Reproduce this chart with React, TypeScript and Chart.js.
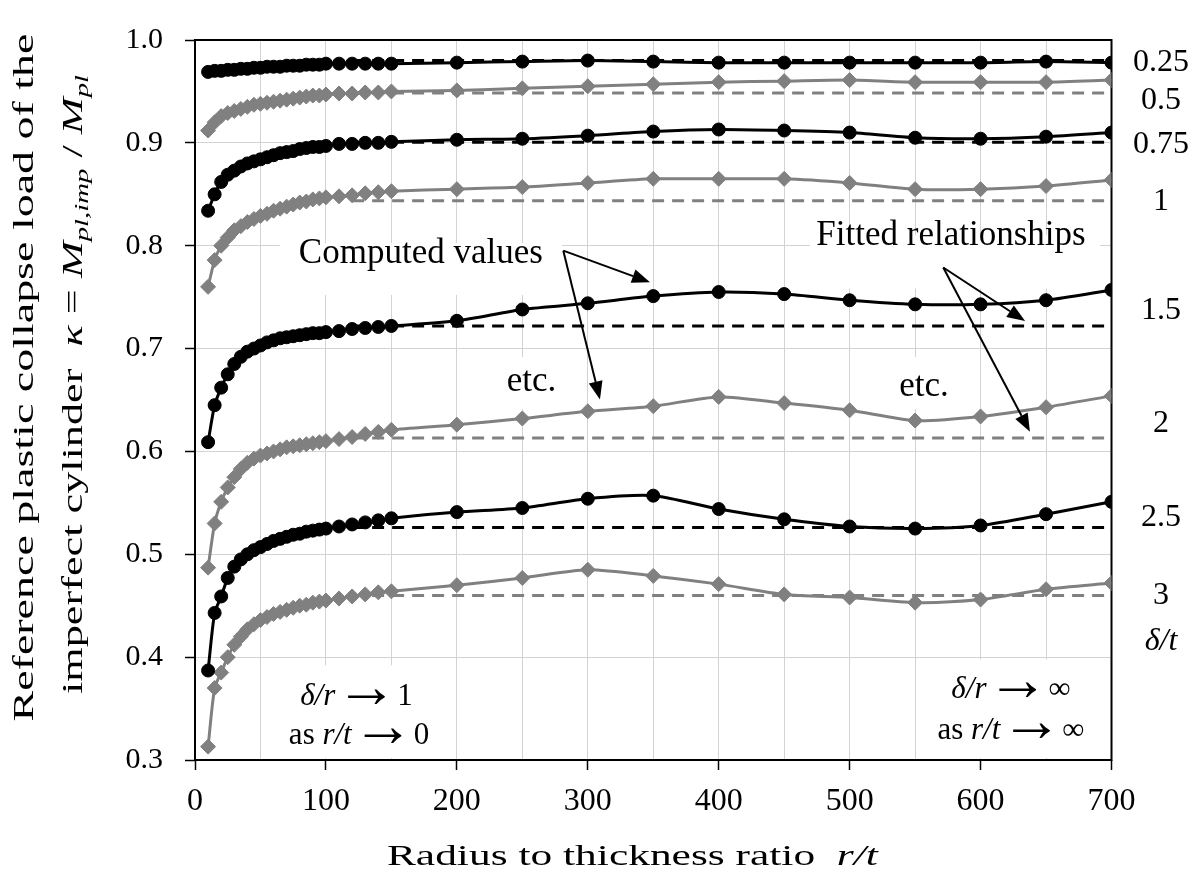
import React, { useEffect, useRef } from "react";
import { Chart, registerables } from "chart.js";
Chart.register(...registerables);

// ---------- data ----------
const rt = [10, 15, 20, 25, 30, 35, 40, 45, 50, 55, 60, 65, 70, 75, 80, 85, 90, 95, 100, 110, 120, 130, 140, 150, 200, 250, 300, 350, 400, 450, 500, 550, 600, 650, 700];

const k025 = [0.969, 0.970, 0.970, 0.971, 0.971, 0.972, 0.972, 0.973, 0.973, 0.974, 0.974, 0.974, 0.975, 0.975, 0.975, 0.976, 0.976, 0.976, 0.977, 0.977, 0.977, 0.977, 0.977, 0.977, 0.978, 0.979, 0.980, 0.979, 0.978, 0.978, 0.978, 0.978, 0.978, 0.979, 0.978];
const k05 = [0.912, 0.920, 0.926, 0.929, 0.931, 0.933, 0.935, 0.937, 0.938, 0.939, 0.940, 0.941, 0.942, 0.943, 0.944, 0.945, 0.946, 0.946, 0.947, 0.948, 0.948, 0.949, 0.949, 0.950, 0.951, 0.953, 0.955, 0.957, 0.959, 0.960, 0.961, 0.959, 0.959, 0.959, 0.961];
const k075 = [0.834, 0.850, 0.862, 0.869, 0.873, 0.877, 0.880, 0.882, 0.884, 0.886, 0.888, 0.890, 0.891, 0.892, 0.894, 0.895, 0.896, 0.896, 0.897, 0.899, 0.899, 0.900, 0.900, 0.901, 0.903, 0.904, 0.907, 0.911, 0.913, 0.912, 0.910, 0.905, 0.904, 0.906, 0.910];
const k1 = [0.760, 0.786, 0.800, 0.808, 0.815, 0.819, 0.823, 0.826, 0.829, 0.831, 0.834, 0.836, 0.838, 0.840, 0.842, 0.843, 0.845, 0.846, 0.847, 0.848, 0.849, 0.851, 0.852, 0.853, 0.855, 0.857, 0.861, 0.865, 0.865, 0.865, 0.861, 0.855, 0.855, 0.858, 0.864];
const k15 = [0.609, 0.645, 0.662, 0.675, 0.685, 0.692, 0.697, 0.700, 0.703, 0.706, 0.708, 0.710, 0.711, 0.712, 0.713, 0.714, 0.715, 0.715, 0.716, 0.717, 0.719, 0.720, 0.721, 0.722, 0.727, 0.738, 0.744, 0.751, 0.755, 0.753, 0.747, 0.743, 0.743, 0.747, 0.757];
const k2 = [0.487, 0.530, 0.551, 0.565, 0.575, 0.583, 0.589, 0.593, 0.596, 0.598, 0.600, 0.602, 0.604, 0.605, 0.606, 0.607, 0.608, 0.609, 0.610, 0.612, 0.614, 0.617, 0.619, 0.621, 0.626, 0.632, 0.639, 0.644, 0.653, 0.647, 0.640, 0.630, 0.634, 0.643, 0.654];
const k25 = [0.387, 0.443, 0.459, 0.477, 0.488, 0.495, 0.500, 0.504, 0.507, 0.510, 0.513, 0.515, 0.517, 0.519, 0.520, 0.522, 0.523, 0.524, 0.525, 0.527, 0.529, 0.531, 0.533, 0.535, 0.541, 0.545, 0.554, 0.557, 0.544, 0.534, 0.527, 0.525, 0.528, 0.539, 0.551];
const k3 = [0.313, 0.370, 0.385, 0.400, 0.412, 0.420, 0.427, 0.432, 0.436, 0.439, 0.442, 0.444, 0.446, 0.448, 0.450, 0.451, 0.453, 0.454, 0.455, 0.457, 0.459, 0.461, 0.463, 0.464, 0.470, 0.477, 0.485, 0.479, 0.471, 0.461, 0.458, 0.453, 0.456, 0.466, 0.472];

const deltaT = ["0.25", "0.5", "0.75", "1", "1.5", "2", "2.5", "3"];
const fittedK = [0.980, 0.9485, 0.9005, 0.8436, 0.722, 0.613, 0.526, 0.460];
const fitRange = [120, 700];
const labelY = [0.980, 0.943, 0.901, 0.845, 0.739, 0.629, 0.538, 0.462];
const labelX = 737.8;
const dtLabelY = 0.4158;

const xMin = 0, xMax = 700, xStep = 50, xLabelStep = 100;
const yMin = 0.3, yMax = 1.0, yStep = 0.1;

const computed = [k025, k05, k075, k1, k15, k2, k25, k3];

// ---------- styling ----------
const SERIF = '"Liberation Serif", "Times New Roman", serif';
const GRAY = "#808080";
const GRID = "#d3d3d3";

type Run = { t: string; it?: boolean; sub?: boolean; ar?: boolean };

const notes: { runs: Run[]; x: number; y: number; size: number }[] = [
  { runs: [{ t: "Computed values" }], x: 172.5, y: 0.7835, size: 35 },
  { runs: [{ t: "Fitted relationships" }], x: 577.4, y: 0.8009, size: 35 },
  { runs: [{ t: "etc." }], x: 257, y: 0.6584, size: 35 },
  { runs: [{ t: "etc." }], x: 556.8, y: 0.6536, size: 35 },
  { runs: [{ t: "δ/r", it: true }, { t: "→", ar: true }, { t: "1" }], x: 123.3, y: 0.3538, size: 31 },
  { runs: [{ t: "as " }, { t: "r/t", it: true }, { t: "→", ar: true }, { t: "0" }], x: 125.3, y: 0.3158, size: 31 },
  { runs: [{ t: "δ/r", it: true }, { t: "→", ar: true }, { t: "∞" }], x: 623.2, y: 0.36, size: 31 },
  { runs: [{ t: "as " }, { t: "r/t", it: true }, { t: "→", ar: true }, { t: "∞" }], x: 623.2, y: 0.3206, size: 31 },
];

const boxes = [
  [64.9, 280.3, 0.7522, 0.8025],
  [469.7, 691.2, 0.7583, 0.8105],
  [230.7, 283.4, 0.6413, 0.6916],
  [530.8, 582.8, 0.6413, 0.6916],
  [64.9, 190.9, 0.302, 0.392],
  [557.6, 698, 0.302, 0.3977],
];

const arrows = [
  [281.3, 0.7952, 347.5, 0.7644],
  [281.3, 0.7952, 309.3, 0.6506],
  [571.5, 0.7788, 634, 0.7267],
  [571.5, 0.7788, 637.7, 0.6192],
];

function fnt(size: number, italic = false) {
  return `${italic ? "italic " : ""}${size}px ${SERIF}`;
}
function runFont(r: Run, size: number) {
  if (r.ar) return fnt(size * 2.0);
  return fnt(r.sub ? size * 0.65 : size, r.it);
}
function runsWidth(ctx: CanvasRenderingContext2D, runs: Run[], size: number) {
  let w = 0;
  for (const r of runs) {
    ctx.font = runFont(r, size);
    w += ctx.measureText(r.t).width;
  }
  return w;
}
function drawRuns(ctx: CanvasRenderingContext2D, runs: Run[], x: number, y: number, size: number) {
  let cx = x;
  for (const r of runs) {
    ctx.font = runFont(r, size);
    const dy = r.sub ? size * 0.24 : r.ar ? size * 0.07 : 0;
    ctx.fillText(r.t, cx, y + dy);
    cx += ctx.measureText(r.t).width;
  }
}

const yTitle1: Run[] = [{ t: "Reference plastic collapse load of the" }];
const yTitle2: Run[] = [
  { t: "imperfect cylinder  " },
  { t: "κ", it: true },
  { t: " = " },
  { t: "M", it: true },
  { t: "pl,imp", it: true, sub: true },
  { t: " / " },
  { t: "M", it: true },
  { t: "pl", it: true, sub: true },
];
const xTitle: Run[] = [{ t: "Radius to thickness ratio  " }, { t: "r/t", it: true }];

const annotPlugin = {
  id: "annot",
  beforeDatasetsDraw(chart: any) {
    const ctx: CanvasRenderingContext2D = chart.ctx;
    const xs = chart.scales.x, ys = chart.scales.y;
    const a = chart.chartArea;
    ctx.save();
    ctx.fillStyle = "#ffffff";
    for (const b of boxes) {
      const x0 = xs.getPixelForValue(b[0]), x1 = xs.getPixelForValue(b[1]);
      const y0 = ys.getPixelForValue(b[3]), y1 = ys.getPixelForValue(b[2]);
      ctx.fillRect(x0, y0, x1 - x0, y1 - y0);
    }
    ctx.strokeStyle = "#000";
    ctx.lineWidth = 2;
    ctx.strokeRect(a.left, a.top, a.right - a.left, a.bottom - a.top);
    ctx.restore();
  },
  afterDatasetsDraw(chart: any) {
    const ctx: CanvasRenderingContext2D = chart.ctx;
    const xs = chart.scales.x, ys = chart.scales.y;
    ctx.save();
    ctx.fillStyle = "#000";
    ctx.textAlign = "left";
    ctx.textBaseline = "alphabetic";
    for (const n of notes) {
      const w = runsWidth(ctx, n.runs, n.size);
      drawRuns(ctx, n.runs, xs.getPixelForValue(n.x) - w / 2, ys.getPixelForValue(n.y), n.size);
    }
    // arrows
    ctx.strokeStyle = "#000";
    ctx.lineWidth = 2;
    for (const ar of arrows) {
      const x0 = xs.getPixelForValue(ar[0]), y0 = ys.getPixelForValue(ar[1]);
      const x1 = xs.getPixelForValue(ar[2]), y1 = ys.getPixelForValue(ar[3]);
      const ang = Math.atan2(y1 - y0, x1 - x0);
      const hl = 18, hw = 7;
      const bx = x1 - hl * Math.cos(ang), by = y1 - hl * Math.sin(ang);
      ctx.beginPath();
      ctx.moveTo(x0, y0);
      ctx.lineTo(bx, by);
      ctx.stroke();
      ctx.beginPath();
      ctx.moveTo(x1, y1);
      ctx.lineTo(bx + hw * Math.sin(ang), by - hw * Math.cos(ang));
      ctx.lineTo(bx - hw * Math.sin(ang), by + hw * Math.cos(ang));
      ctx.closePath();
      ctx.fill();
    }
    // right-hand δ/t labels
    const ls = 32;
    ctx.textAlign = "center";
    ctx.font = fnt(ls);
    const lx = xs.getPixelForValue(labelX);
    deltaT.forEach((t, i) => {
      ctx.fillText(t, lx, ys.getPixelForValue(labelY[i]) + ls * 0.338);
    });
    ctx.font = fnt(ls, true);
    ctx.fillText("δ/t", lx, ys.getPixelForValue(dtLabelY) + ls * 0.3);
    ctx.textAlign = "left";

    // axis titles (serif, stretched along the text)
    const ts = 29;
    let w = runsWidth(ctx, yTitle1, ts);
    ctx.save();
    ctx.translate(33, 377.5);
    ctx.rotate(-Math.PI / 2);
    ctx.scale(688 / w, 1);
    drawRuns(ctx, yTitle1, -w / 2, 0, ts);
    ctx.restore();
    w = runsWidth(ctx, yTitle2, ts);
    ctx.save();
    ctx.translate(81.5, 384.5);
    ctx.rotate(-Math.PI / 2);
    ctx.scale(619 / w, 1);
    drawRuns(ctx, yTitle2, -w / 2, 0, ts);
    ctx.restore();
    w = runsWidth(ctx, xTitle, ts);
    ctx.save();
    ctx.translate(632.4, 865);
    ctx.scale(491 / w, 1);
    drawRuns(ctx, xTitle, -w / 2, 0, ts);
    ctx.restore();
    ctx.restore();
  },
};

const near = (a: number, b: number) => Math.abs(a - b) < 1e-6;

export default function App() {
  const ref = useRef<HTMLCanvasElement | null>(null);
  useEffect(() => {
    document.body.style.margin = "0";
    const canvas = ref.current!;
    const datasets: any[] = [];
    computed.forEach((arr, i) => {
      const black = i % 2 === 0;
      const c = black ? "#000000" : GRAY;
      datasets.push({
        label: "δ/t = " + deltaT[i],
        data: rt.map((x, j) => ({ x, y: arr[j] })),
        borderColor: c,
        backgroundColor: c,
        borderWidth: 3,
        pointStyle: black ? "circle" : "rectRot",
        pointRadius: black ? 6.5 : 7.5,
        pointBorderWidth: 1,
        pointBackgroundColor: c,
        pointBorderColor: c,
        tension: 0.25,
        clip: 0,
      });
    });
    fittedK.forEach((v, i) => {
      const c = i % 2 === 0 ? "#000000" : GRAY;
      datasets.push({
        label: "fit " + deltaT[i],
        data: fitRange.map((x) => ({ x, y: v })),
        borderColor: c,
        borderWidth: 3,
        borderDash: [12, 8],
        pointRadius: 0,
        tension: 0,
        clip: 0,
      });
    });

    const chart = new Chart(canvas, {
      type: "line",
      data: { datasets },
      options: {
        responsive: false,
        animation: false,
        devicePixelRatio: 1,
        layout: { padding: { left: 0, top: 22, right: 92.5, bottom: 0 } },
        plugins: { legend: { display: false }, tooltip: { enabled: false }, title: { display: false } },
        scales: {
          x: {
            type: "linear",
            min: xMin,
            max: xMax,
            afterFit: (s: any) => { s.height = 112; },
            border: { display: false },
            grid: {
              color: (c: any) => (c.tick && (near(c.tick.value, xMin) || near(c.tick.value, xMax)) ? "rgba(0,0,0,0)" : GRID),
              tickColor: (c: any) => (c.tick && c.tick.value % xLabelStep === 0 ? "#000" : "rgba(0,0,0,0)"),
              tickLength: 10,
              lineWidth: 1,
              tickWidth: 1.5,
            },
            ticks: {
              stepSize: xStep,
              autoSkip: false,
              maxRotation: 0,
              padding: 12,
              color: "#000",
              font: { family: SERIF, size: 32 },
              callback: (v: any) => (Number(v) % xLabelStep === 0 ? String(v) : ""),
            },
          },
          y: {
            type: "linear",
            min: yMin,
            max: yMax,
            afterFit: (s: any) => { s.width = 195; },
            border: { display: false },
            grid: {
              color: (c: any) => (c.tick && (near(c.tick.value, yMin) || near(c.tick.value, yMax)) ? "rgba(0,0,0,0)" : GRID),
              tickColor: "#000",
              tickLength: 10,
              lineWidth: 1,
              tickWidth: 1.5,
            },
            ticks: {
              stepSize: yStep,
              padding: 22,
              color: "#000",
              font: { family: SERIF, size: 30 },
              callback: (v: any) => Number(v).toFixed(1),
            },
          },
        },
      },
      plugins: [annotPlugin],
    } as any);
    return () => chart.destroy();
  }, []);
  return (
    <canvas ref={ref} width={1204} height={872} style={{ display: "block", width: 1204, height: 872 }} />
  );
}
